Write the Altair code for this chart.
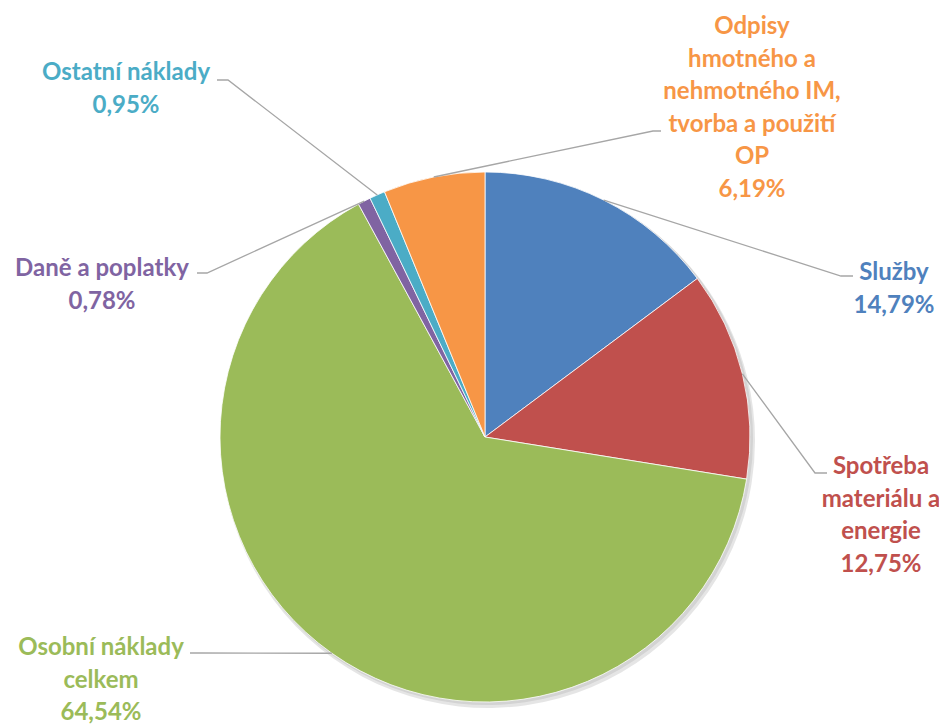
import math
import altair as alt
import pandas as pd

# ---- data ----
names = ["Služby", "Spotřeba materiálu a energie", "Osobní náklady celkem",
         "Daně a poplatky", "Ostatní náklady",
         "Odpisy hmotného a nehmotného IM, tvorba a použití OP"]
shares = [14.79, 12.75, 64.54, 0.78, 0.95, 6.19]
label_lines = [["Služby"], ["Spotřeba", "materiálu a", "energie"],
               ["Osobní náklady", "celkem"], ["Daně a poplatky"],
               ["Ostatní náklady"],
               ["Odpisy", "hmotného a", "nehmotného IM,", "tvorba a použití", "OP"]]
colors = ["#4F81BD", "#C0504D", "#9BBB59", "#8064A2", "#4BACC6", "#F79646"]

# ---- layout (chart coordinates) ----
W, H = 931, 716
CX, CY, R = 477, 429, 265
label_pos = [(886, 265), (873, 459), (93, 640), (94, 261), (118, 65), (744, 19)]
elbows = [((833, 268), (845, 268)), ((807, 465), (819, 465)), ((192, 645), (182, 645)),
          ((199, 265), (189, 265)), ((220, 72), (209, 72)), ((645, 123), (653, 123))]

def pct(v):
    return f"{v:.2f}".replace(".", ",") + "%"

df = pd.DataFrame({"name": names, "share": shares, "order": list(range(len(names)))})
df["label"] = ["\n".join(l + [pct(s)]) for l, s in zip(label_lines, shares)]
df["lx"] = [p[0] for p in label_pos]
df["ly"] = [p[1] for p in label_pos]

# leader lines: start at slice mid-angle on the rim
rows = []
cum = 0.0
for i, (n, s) in enumerate(zip(names, shares)):
    mid = (cum + s / 2) / 100 * 2 * math.pi
    cum += s
    sx = CX + R * math.sin(mid)
    sy = CY - R * math.cos(mid)
    (ex, ey), (tx, ty) = elbows[i]
    rows += [{"name": n, "k": 0, "x": sx, "y": sy},
             {"name": n, "k": 1, "x": ex, "y": ey},
             {"name": n, "k": 2, "x": tx, "y": ty}]
lines_df = pd.DataFrame(rows)

color_scale = alt.Scale(domain=names, range=colors)

shadow = alt.Chart(df).mark_arc(radius=R + 2, fill="#000000", opacity=0.10).encode(
    theta=alt.Theta("share:Q", stack=True),
    x=alt.value(CX + 3), y=alt.value(CY + 4),
)
shadow2 = alt.Chart(df).mark_arc(radius=R + 1, fill="#000000", opacity=0.08).encode(
    theta=alt.Theta("share:Q", stack=True),
    x=alt.value(CX + 2), y=alt.value(CY + 2),
)

pie = alt.Chart(df).mark_arc(radius=R, stroke="white", strokeWidth=0.8).encode(
    theta=alt.Theta("share:Q", stack=True),
    order=alt.Order("order:Q"),
    color=alt.Color("name:N", scale=color_scale, legend=None),
    x=alt.value(CX), y=alt.value(CY),
)

leaders = alt.Chart(lines_df).mark_line(color="#A6A6A6", strokeWidth=1.3).encode(
    x=alt.X("x:Q", scale=None, axis=None),
    y=alt.Y("y:Q", scale=None, axis=None),
    detail="name:N",
    order="k:Q",
)

labels = alt.Chart(df).mark_text(
    font="Lato", fontWeight="bold", fontSize=24, lineBreak="\n", lineHeight=32.5,
    align="center", baseline="middle",
).encode(
    x=alt.X("lx:Q", scale=None, axis=None),
    y=alt.Y("ly:Q", scale=None, axis=None),
    text="label:N",
    color=alt.Color("name:N", scale=color_scale, legend=None),
)

chart = alt.layer(shadow, shadow2, pie, leaders, labels).properties(
    width=W, height=H, autosize=alt.AutoSizeParams(type="none"), padding=0,
    background="white",
).configure_view(strokeWidth=0, strokeOpacity=0)

chart.save("out.html", embed_options={"renderer": "svg", "actions": False})
